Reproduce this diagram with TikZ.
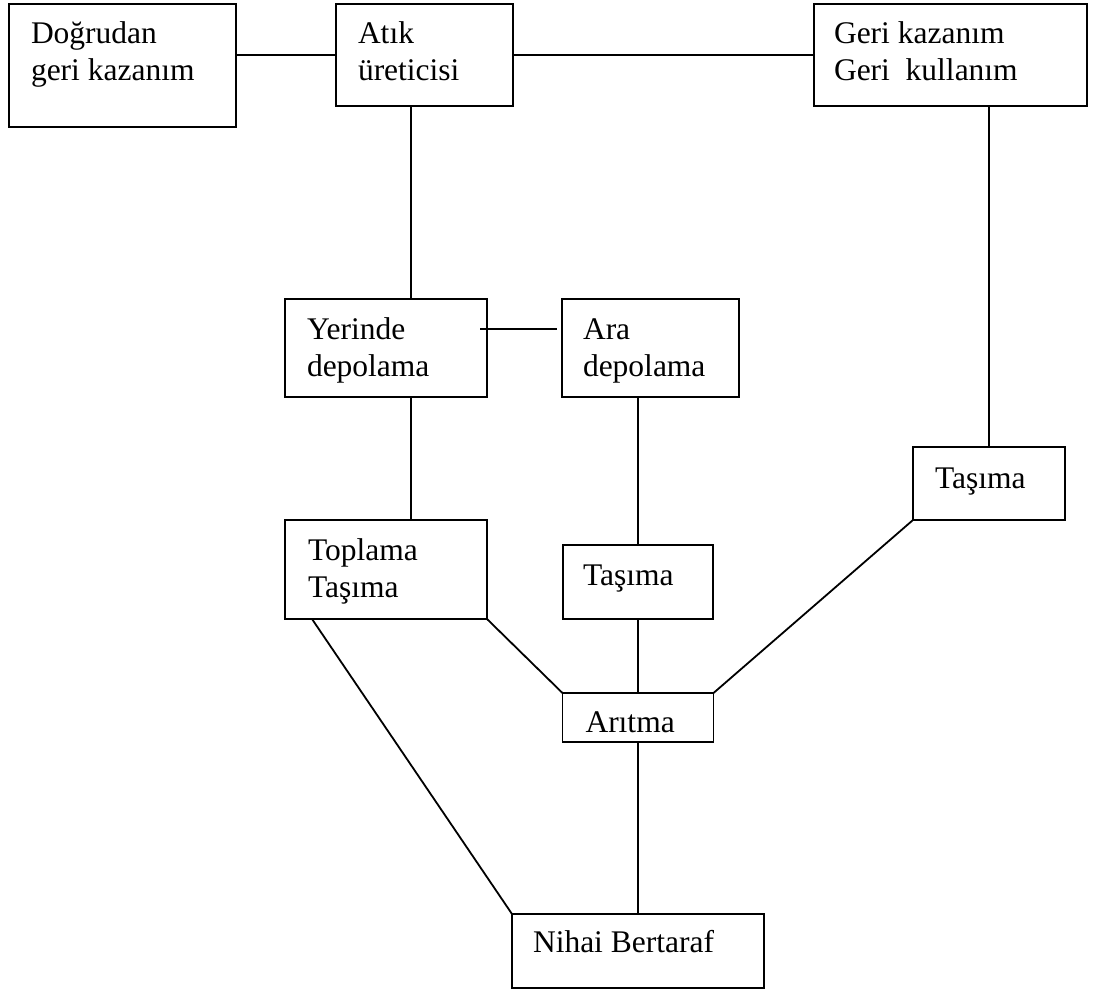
\documentclass[tikz,border=0pt]{standalone}
\usepackage{fontspec}
\setmainfont{Liberation Serif}
\begin{document}
\begin{tikzpicture}[x=1pt,y=-1pt,
  box/.style n args={2}{draw=black, line width=1.8pt, rectangle, inner sep=0pt,
    outer sep=0pt, minimum width=#1, minimum height=#2},
  txt/.style={anchor=north west, inner sep=0pt, outer sep=0pt, align=left,
    font=\fontsize{31.5}{37}\selectfont},
  link/.style={draw=black, line width=1.8pt}]
\useasboundingbox (0,0) rectangle (1097,990);

% boxes (centre, width, height)
\node[box={227}{123}] (dog)  at (122.5,65.5) {};
\node[box={177}{102}] (atik) at (424.5,55)   {};
\node[box={273}{102}] (geri) at (950.5,55)   {};
\node[box={202}{98}]  (yer)  at (386,348)    {};
\node[box={177}{98}]  (ara)  at (650.5,348)  {};
\node[box={152}{73}]  (tasr) at (989,483.5)  {};
\node[box={202}{99}]  (top)  at (386,569.5)  {};
\node[box={150}{74}]  (tasm) at (638,582)    {};
\node[box={151}{49}]  (arit) at (638,717.5)  {};
\node[box={252}{74}]  (nih)  at (638,951)    {};

% labels
\node[txt] (dogt)  at ([shift={(22,10)}]dog.north west)  {\rule{0pt}{30pt}Doğrudan\\geri kazanım};
\node[txt] (atikt) at ([shift={(22,10)}]atik.north west) {\rule{0pt}{30pt}Atık\\üreticisi};
\node[txt] (gerit) at ([shift={(20,10)}]geri.north west) {\rule{0pt}{30pt}Geri kazanım\\Geri\ \ kullanım};
\node[txt] (yert)  at ([shift={(22,10)}]yer.north west)  {\rule{0pt}{30pt}Yerinde\\depolama};
\node[txt] (arat)  at ([shift={(21,10)}]ara.north west)  {\rule{0pt}{30pt}Ara\\depolama};
\node[txt] (tasrt) at ([shift={(22,11)}]tasr.north west) {\rule{0pt}{30pt}Taşıma};
\node[txt] (topt)  at ([shift={(23,10)}]top.north west)  {\rule{0pt}{30pt}Toplama\\Taşıma};
\node[txt] (tasmt) at ([shift={(20,10)}]tasm.north west) {\rule{0pt}{30pt}Taşıma};
\node[txt] (aritt) at ([shift={(23,9)}]arit.north west)  {\rule{0pt}{30pt}Arıtma};
\node[txt] (niht)  at ([shift={(21,8)}]nih.north west)   {\rule{0pt}{30pt}Nihai Bertaraf};

% connectors
\draw[link] (dog.east |- atik.west) -- (atik.west);
\draw[link] (atik.east) -- (atik.east -| geri.west);
\draw[link] ([xshift=-13.5]atik.south) -- ([xshift=25]yer.north);
\draw[link] ([shift={(-7,-19)}]yer.east) -- ([shift={(-5,-19)}]ara.west);
\draw[link] ([xshift=25]yer.south) -- ([xshift=25]top.north);
\draw[link] ([xshift=-12.5]ara.south) -- (tasm.north);
\draw[link] (tasm.south) -- (tasm.south |- arit.north);
\draw[link] (geri.south -| tasr.north) -- (tasr.north);
\draw[link] (top.south east) -- (arit.north west);
\draw[link] (tasr.south west) -- (arit.north east);
\draw[link] ([xshift=-74]top.south) -- (nih.north west);
\draw[link] (arit.south) -- (arit.south |- nih.north);
\end{tikzpicture}
\end{document}
